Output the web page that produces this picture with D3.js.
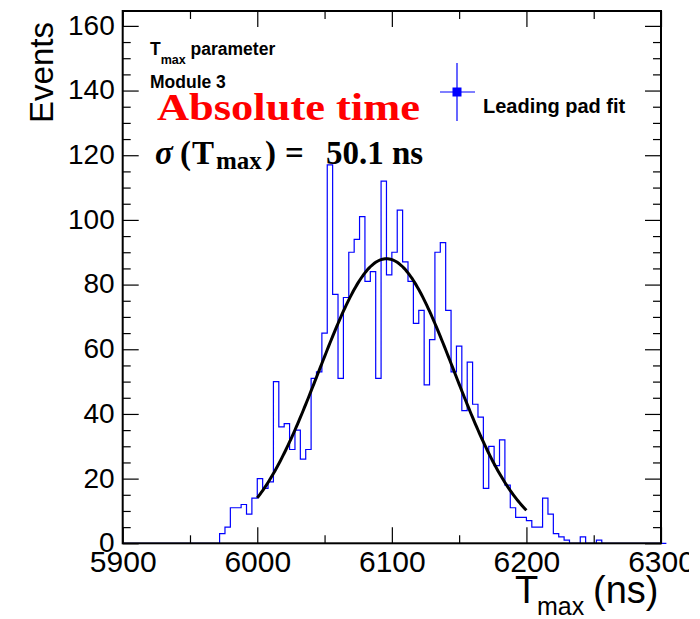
<!DOCTYPE html>
<html>
<head>
<meta charset="utf-8">
<script src="https://cdn.jsdelivr.net/npm/d3@7"></script>
<style>
  body { margin: 0; background: #fff; }
  svg { display: block; }
</style>
</head>
<body>
<svg id="chart" width="700" height="619"></svg>
<script>
// histogram: 100 bins of 4 ns from 5900 to 6300
const binStart = 5900;
const binWidth = 4;
const counts = [
  0, 0, 0, 0, 0, 0, 0, 0, 0, 0, 0, 0, 0, 0, 0, 0, 0, 0,
  3, 5, 11, 11, 12, 9, 14,
  20, 17, 19, 50, 36, 37, 29, 35, 26, 29, 51, 53, 65, 117, 77, 51, 76, 90, 94, 101, 81, 84, 51, 112, 83,
  90, 103, 87, 81, 68, 72, 49, 63, 90, 93, 72, 53, 61, 41, 56, 43, 39, 17, 30, 24, 32, 18, 11, 8, 8,
  7, 5, 5, 14, 9, 3, 2, 1, 0, 0, 2, 0, 0, 1, 0, 0, 0, 0, 0, 0, 0, 0, 0, 0, 0, 0
];

// gaussian fit result
const fitConst = 88;
const fitMean = 6096;
const fitSigma = 50.1;
const fitRange = [6000, 6200];

const xTicks = [5900, 6000, 6100, 6200, 6300];
const xMinorTicks = [5950, 6050, 6150, 6250];
const yTicks = [0, 20, 40, 60, 80, 100, 120, 140, 160];

const svg = d3.select("#chart");
const width = +svg.attr("width");
const height = +svg.attr("height");
const margin = { top: 11, right: 39, bottom: 75.7, left: 122.7 };
const font = "'Liberation Sans', Arial, Helvetica, sans-serif";
const serif = "'Liberation Serif', 'Times New Roman', serif";

const x = d3.scaleLinear().domain([5900, 6300]).range([margin.left, width - margin.right]);
const y = d3.scaleLinear().domain([0, 164.6]).range([height - margin.bottom, margin.top]);

const yMinor = d3.range(0, 165, 5).filter((v) => v % 20 !== 0);

svg.append("defs").append("clipPath").attr("id", "pageClip")
  .append("rect").attr("x", 0).attr("y", 0).attr("width", 689).attr("height", height);
const root = svg.append("g").attr("clip-path", "url(#pageClip)");

// histogram outline
const bins = counts.map((c, i) => ({ x0: binStart + i * binWidth, x1: binStart + (i + 1) * binWidth, c }));
let histPath = `M${x(bins[0].x0)},${y(0)}`;
bins.forEach((b) => {
  histPath += `L${x(b.x0)},${y(b.c)}L${x(b.x1)},${y(b.c)}`;
});
histPath += `L${x(bins[bins.length - 1].x1)},${y(0)}`;
root.append("path")
  .attr("d", histPath)
  .attr("fill", "none")
  .attr("stroke", "#0000ff")
  .attr("stroke-width", 1.2);

// fit curve
const fitPts = d3.range(fitRange[0], fitRange[1] + 0.5, 1).map((v) => [
  v, fitConst * Math.exp(-0.5 * ((v - fitMean) / fitSigma) ** 2)
]);
root.append("path")
  .datum(fitPts)
  .attr("d", d3.line().x((d) => x(d[0])).y((d) => y(d[1])))
  .attr("fill", "none")
  .attr("stroke", "#000")
  .attr("stroke-width", 3);

// axes (ROOT style ticks inside frame)
const axBottom = root.append("g").attr("transform", `translate(0,${y(0)})`);
axBottom.call(d3.axisBottom(x).tickValues(xTicks).tickSize(-16).tickPadding(7).tickFormat(d3.format("d")));
axBottom.append("g").call(d3.axisBottom(x).tickValues(xMinorTicks).tickSize(-8).tickFormat(""));

const axTop = root.append("g").attr("transform", `translate(0,${margin.top})`);
axTop.call(d3.axisTop(x).tickValues(xTicks).tickSize(-16).tickFormat(""));
axTop.append("g").call(d3.axisTop(x).tickValues(xMinorTicks).tickSize(-8).tickFormat(""));

const axLeft = root.append("g").attr("transform", `translate(${margin.left},0)`);
axLeft.call(d3.axisLeft(y).tickValues(yTicks).tickSize(-16).tickPadding(8).tickFormat(d3.format("d")));
axLeft.append("g").call(d3.axisLeft(y).tickValues(yMinor).tickSize(-8).tickFormat(""));

const axRight = root.append("g").attr("transform", `translate(${width - margin.right},0)`);
axRight.call(d3.axisRight(y).tickValues(yTicks).tickSize(-16).tickFormat(""));
axRight.append("g").call(d3.axisRight(y).tickValues(yMinor).tickSize(-8).tickFormat(""));

root.selectAll(".domain").remove();
root.selectAll(".tick line").attr("stroke", "#000").attr("stroke-width", 1.2);
axBottom.selectAll("text").attr("font-family", font).attr("font-size", 30).attr("fill", "#000");
axLeft.selectAll("text").attr("font-family", font).attr("font-size", 28).attr("fill", "#000")
  .attr("dy", "0.3em");

// frame
root.append("rect")
  .attr("x", margin.left).attr("y", margin.top)
  .attr("width", width - margin.left - margin.right)
  .attr("height", height - margin.top - margin.bottom)
  .attr("fill", "none").attr("stroke", "#000").attr("stroke-width", 2);

// axis titles
root.append("text")
  .attr("transform", `translate(53,22) rotate(-90)`)
  .attr("text-anchor", "end")
  .attr("font-family", font).attr("font-size", 33)
  .text("Events");

const xt = root.append("text")
  .attr("y", 603)
  .attr("font-family", font).attr("font-size", 38);
xt.append("tspan").attr("x", 515).text("T");
xt.append("tspan").attr("x", 537).attr("font-size", 25).attr("dy", 12).text("max");
xt.append("tspan").attr("x", 593).attr("dy", -12).text("(ns)");

// labels in the pad
const t1 = root.append("text").attr("x", 150).attr("y", 55)
  .attr("font-family", font).attr("font-weight", "bold").attr("font-size", 17.5);
t1.append("tspan").text("T");
t1.append("tspan").attr("font-size", 12.5).attr("dy", 9).text("max");
t1.append("tspan").attr("dy", -9).text(" parameter");

root.append("text").attr("x", 150).attr("y", 88)
  .attr("font-family", font).attr("font-weight", "bold").attr("font-size", 17.5)
  .text("Module 3");

root.append("text").attr("x", 157).attr("y", 120)
  .attr("font-family", serif).attr("font-weight", "bold").attr("font-size", 37)
  .attr("fill", "#ff0000")
  .attr("textLength", 263).attr("lengthAdjust", "spacingAndGlyphs")
  .text("Absolute time");

const sig = root.append("text").attr("y", 164)
  .attr("font-family", serif).attr("font-weight", "bold").attr("font-size", 33);
sig.append("tspan").attr("x", 155).attr("font-style", "italic").text("σ");
sig.append("tspan").attr("x", 180).text("(");
sig.append("tspan").attr("x", 192).text("T");
sig.append("tspan").attr("x", 216).attr("font-size", 25).attr("dy", 5).text("max");
sig.append("tspan").attr("x", 265).attr("dy", -5).text(")");
sig.append("tspan").attr("x", 285).text("=");
sig.append("tspan").attr("x", 326).text("50.1");
sig.append("tspan").attr("x", 392).text("ns");

// legend
const lg = root.append("g");
lg.append("line").attr("x1", 457).attr("x2", 457).attr("y1", 63).attr("y2", 121)
  .attr("stroke", "#0000ff").attr("stroke-width", 1.2);
lg.append("line").attr("x1", 440).attr("x2", 475).attr("y1", 92).attr("y2", 92)
  .attr("stroke", "#0000ff").attr("stroke-width", 1.2);
lg.append("rect").attr("x", 452.5).attr("y", 87.5).attr("width", 9).attr("height", 9)
  .attr("fill", "#0000ff");
lg.append("text").attr("x", 483).attr("y", 113)
  .attr("font-family", font).attr("font-weight", "bold").attr("font-size", 20)
  .text("Leading pad fit");
</script>
</body>
</html>
